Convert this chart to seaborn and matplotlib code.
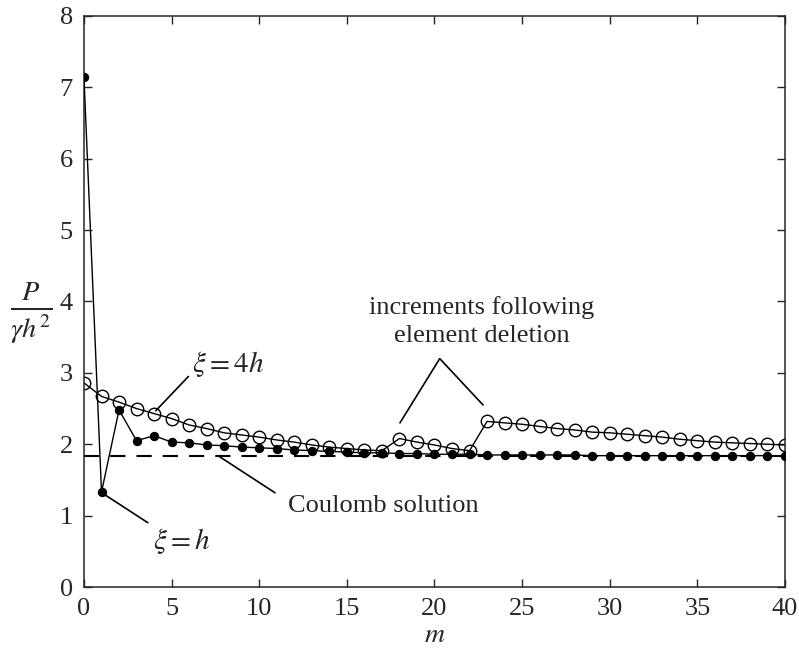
import numpy as np
import pandas as pd
import matplotlib
matplotlib.use("Agg")
import matplotlib.pyplot as plt
import seaborn as sns

# step number m
m = list(range(41))

# xi = h (filled circles)
p_h = [7.14, 1.33, 2.48, 2.05, 2.12, 2.03, 2.02, 1.99, 1.98, 1.96,
       1.95, 1.94, 1.92, 1.91, 1.90, 1.89, 1.88, 1.88, 1.87, 1.87,
       1.86, 1.86, 1.86, 1.85, 1.85, 1.85, 1.85, 1.85, 1.85, 1.84,
       1.84, 1.84, 1.84, 1.84, 1.84, 1.84, 1.84, 1.84, 1.84, 1.84,
       1.84]

# xi = 4h (open circles)
p_4h = [2.86, 2.67, 2.59, 2.50, 2.43, 2.36, 2.27, 2.22, 2.16, 2.13,
        2.10, 2.06, 2.03, 1.99, 1.96, 1.94, 1.92, 1.91, 2.08, 2.03,
        1.99, 1.94, 1.91, 2.32, 2.30, 2.28, 2.25, 2.22, 2.20, 2.17,
        2.16, 2.14, 2.12, 2.10, 2.07, 2.05, 2.03, 2.02, 2.01, 2.00,
        1.99]

coulomb = 1.84

df = pd.DataFrame({"m": m, "h": p_h, "4h": p_4h})

sns.set_style("ticks")
plt.rcParams["font.family"] = ["Liberation Serif", "DejaVu Serif"]
plt.rcParams["mathtext.fontset"] = "stix"

fig = plt.figure(figsize=(7.99, 6.55), dpi=100)
ax = fig.add_axes([0.1051, 0.1038, 0.8774, 0.8718])

# Coulomb solution
ax.plot([0, 40], [coulomb, coulomb], color="black", lw=1.5,
        linestyle=(0, (7.3, 5.3)), zorder=1)

sns.lineplot(data=df, x="m", y="h", ax=ax, color="black", lw=1,
             marker="o", markersize=6, markerfacecolor="black",
             markeredgecolor="black", zorder=3)
sns.lineplot(data=df, x="m", y="4h", ax=ax, color="black", lw=1,
             marker="o", markersize=9, markerfacecolor="none",
             markeredgecolor="black", markeredgewidth=1, zorder=2)

ax.set_xlim(0, 40)
ax.set_ylim(0, 8)
ax.set_xticks(range(0, 41, 5))
ax.set_yticks(range(0, 9))
ax.tick_params(direction="in", length=6, width=1, labelsize=19,
               top=True, right=True, pad=8)
for s in ax.spines.values():
    s.set_linewidth(1.1)
    s.set_visible(True)

ax.set_xlabel(r"$m$", fontsize=20, labelpad=2)
ax.set_ylabel(r"$\frac{P}{\gamma h^2}$", fontsize=29, rotation=0,
              ha="center", va="center")
ax.yaxis.set_label_coords(-0.075, 0.48)

# annotations
kw = dict(color="black", lw=1.2, zorder=4)
ax.plot([4.1, 5.96], [2.47, 2.95], **kw)
ax.text(6.16, 3.12, r"$\xi = 4h$", fontsize=21, va="center", ha="left")
ax.plot([1.08, 3.65], [1.31, 0.90], **kw)
ax.text(3.94, 0.65, r"$\xi = h$", fontsize=21, va="center", ha="left")
ax.plot([7.65, 10.9], [1.84, 1.32], **kw)
ax.text(11.64, 1.14, "Coulomb solution", fontsize=19, va="center", ha="left")
ax.plot([18.03, 20.3, 22.77], [2.3, 3.2, 2.55], **kw)
ax.text(22.7, 3.91, "increments following", fontsize=19, va="center", ha="center")
ax.text(22.7, 3.52, "element deletion", fontsize=19, va="center", ha="center")

fig.savefig("out.png", dpi=100)
